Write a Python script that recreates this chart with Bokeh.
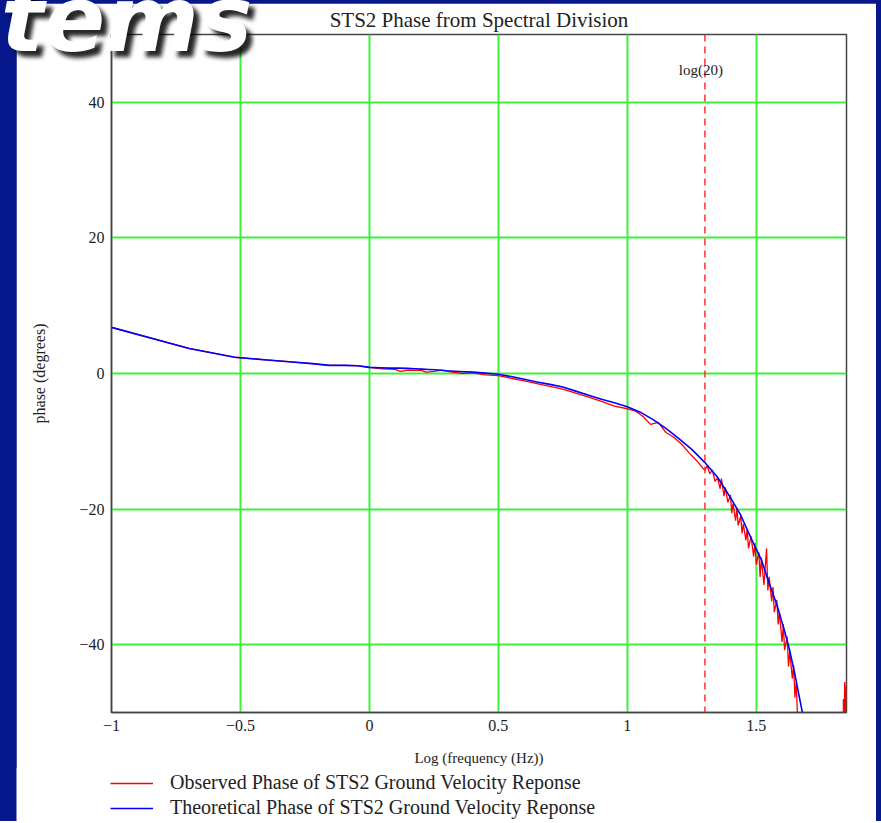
from bokeh.plotting import figure
from bokeh.layouts import column
from bokeh.models import Span, Label, Legend, LegendItem, FixedTicker, Range1d, Div
from bokeh.embed import file_html
from bokeh.resources import INLINE

title_text = "STS2 Phase from Spectral Division"
x_label = "Log (frequency (Hz))"
y_label = "phase (degrees)"
obs_name = "Observed Phase of STS2 Ground Velocity Reponse"
theo_name = "Theoretical Phase of STS2 Ground Velocity Reponse"
slide_word = "tems"

x_ticks = [-1, -0.5, 0, 0.5, 1, 1.5]
x_tick_labels = ["\u22121", "\u22120.5", "0", "0.5", "1", "1.5"]
y_ticks = [-40, -20, 0, 20, 40]
y_tick_labels = ["\u221240", "\u221220", "0", "20", "40"]
marker_x = 1.30103  # log(20)
marker_text = "log(20)"

theo_x = [-1.0, -0.699, -0.523, -0.398, -0.301, -0.222, -0.155, -0.097, -0.046, 0.0,
          0.041, 0.079, 0.114, 0.146, 0.176, 0.204, 0.23, 0.255, 0.30, 0.35, 0.40,
          0.45, 0.50, 0.55, 0.60, 0.65, 0.70, 0.75, 0.80, 0.85, 0.90, 0.95, 1.00,
          1.05, 1.10, 1.15, 1.20, 1.25, 1.30, 1.35, 1.40, 1.44, 1.48, 1.52, 1.55,
          1.58, 1.61, 1.63, 1.65, 1.68]
theo_y = [6.8, 3.7, 2.4, 2.0, 1.7, 1.45, 1.2, 1.2, 1.15, 0.9,
          0.85, 0.8, 0.8, 0.75, 0.7, 0.65, 0.6, 0.55, 0.4, 0.3, 0.2,
          0.05, -0.1, -0.45, -0.85, -1.25, -1.6, -2.0, -2.6, -3.2, -3.8, -4.3, -4.9,
          -5.7, -6.8, -8.1, -9.6, -11.2, -13.1, -15.3, -18.3, -20.9, -24.3, -27.5, -30.9,
          -34.1, -38.0, -40.9, -44.4, -50.2]

obs_x = [-1.0, -0.699, -0.523, -0.398, -0.301, -0.222, -0.155, -0.097, -0.046, 0.0,
         0.05, 0.1, 0.12, 0.15, 0.2, 0.22, 0.25, 0.28, 0.32, 0.36, 0.4, 0.45, 0.5,
         0.55, 0.6, 0.65, 0.7, 0.75, 0.8, 0.85, 0.9, 0.95, 1.0, 1.03, 1.06, 1.09,
         1.12, 1.15, 1.18, 1.21, 1.24, 1.27, 1.30,
         1.31, 1.32, 1.33, 1.34, 1.35, 1.36, 1.365, 1.375, 1.38, 1.39, 1.40, 1.405,
         1.41, 1.42, 1.425, 1.43, 1.44, 1.445, 1.45, 1.46, 1.465, 1.47, 1.48, 1.49,
         1.495, 1.50, 1.51, 1.515, 1.52, 1.53, 1.54, 1.545, 1.55, 1.56, 1.565, 1.57,
         1.58, 1.585, 1.59, 1.60, 1.605, 1.61, 1.62, 1.625, 1.63, 1.64, 1.645, 1.65,
         1.655, 1.66, 1.665, 1.70, 1.75, 1.80, 1.836, 1.838, 1.840, 1.843, 1.846, 1.849]
obs_y = [6.8, 3.7, 2.4, 2.0, 1.7, 1.45, 1.2, 1.2, 1.15, 0.9,
         0.7, 0.6, 0.3, 0.5, 0.45, 0.2, 0.3, 0.5, 0.2, 0.0, 0.1, -0.2, -0.3,
         -0.7, -1.1, -1.5, -1.9, -2.3, -2.9, -3.5, -4.1, -4.8, -5.2, -5.5, -6.3, -7.5,
         -7.2, -8.7, -9.4, -10.4, -11.7, -12.9, -14.3,
         -13.6, -14.8, -14.2, -15.9, -15.4, -17.0, -15.5, -18.1, -16.8, -19.0, -17.9, -20.6,
         -19.2, -21.7, -19.8, -22.4, -21.0, -23.6, -22.2, -24.6, -22.9, -25.8, -24.0, -27.0,
         -25.0, -28.2, -26.4, -30.0, -27.2, -31.2, -25.8, -32.0, -30.0, -33.6, -31.5, -35.2,
         -33.4, -37.0, -35.2, -39.6, -37.0, -40.8, -38.8, -43.2, -41.0, -45.0, -43.0, -47.8,
         -45.6, -50.5, -55.0, -58.0, -66.0, -74.0, -80.0, -48.0, -56.0, -45.5, -53.0, -46.0]

BG = "#06188c"
SERIF = "Liberation Serif"

p = figure(width=860, height=766, x_range=Range1d(-1, 1.85), y_range=Range1d(-50, 50),
           output_backend="svg", toolbar_location=None,
           min_border_left=95, min_border_right=30, min_border_top=28, min_border_bottom=57,
           border_fill_color="white", background_fill_color="white", title=title_text,
           margin=(4, 5, 0, 16))

p.title.text_font = SERIF
p.title.text_font_size = "21px"
p.title.text_font_style = "normal"
p.title.text_color = "#222222"
p.title.align = "center"
p.title.standoff = 5

for ax in (p.xaxis[0], p.yaxis[0]):
    ax.major_tick_in = 0
    ax.major_tick_out = 0
    ax.minor_tick_line_color = None
    ax.axis_line_color = "#444444"
    ax.axis_line_width = 1.5
    ax.major_label_text_font = SERIF
    ax.major_label_text_font_size = "16px"
    ax.major_label_text_color = "#222222"
    ax.axis_label_text_font = SERIF
    ax.axis_label_text_font_style = "normal"
    ax.axis_label_text_color = "#222222"
    ax.major_label_standoff = 7

p.xaxis.axis_label_text_font_size = "15px"
p.yaxis.axis_label_text_font_size = "16px"
p.xaxis.ticker = FixedTicker(ticks=x_ticks)
p.xaxis.major_label_overrides = {t: l for t, l in zip(x_ticks, x_tick_labels)}
p.yaxis.ticker = FixedTicker(ticks=y_ticks)
p.yaxis.major_label_overrides = {t: l for t, l in zip(y_ticks, y_tick_labels)}
p.xaxis.axis_label = x_label
p.yaxis.axis_label = y_label
p.xaxis.axis_label_standoff = 16
p.yaxis.axis_label_standoff = 28

p.xgrid.ticker = FixedTicker(ticks=x_ticks)
p.ygrid.ticker = FixedTicker(ticks=y_ticks)
for g in (p.xgrid[0], p.ygrid[0]):
    g.grid_line_color = "#3cf03c"
    g.grid_line_width = 2

p.outline_line_color = "#444444"
p.outline_line_width = 1.5

p.line(obs_x, obs_y, line_color="#ff0000", line_width=1.3)
p.line(theo_x, theo_y, line_color="#0000ff", line_width=1.6)

p.add_layout(Span(location=marker_x, dimension="height", line_color="#ff3030",
                  line_dash="7 5", line_width=1.5))
p.add_layout(Label(x=marker_x, y=44.8, text=marker_text, text_align="center",
                   text_baseline="middle", x_offset=-4, text_font=SERIF,
                   text_font_size="15px", text_color="#222222"))

# legend strip below the chart (its own small canvas; the series are out of its view)
p2 = figure(width=860, height=53, x_range=Range1d(100, 101), y_range=Range1d(100, 101),
            output_backend="svg", toolbar_location=None, x_axis_type=None, y_axis_type=None,
            min_border=0, border_fill_color="white", background_fill_color="white",
            outline_line_color=None, margin=(0, 5, 0, 16),
            styles={"margin-top": "-1px"})
p2.frame_align = False
p2.grid.visible = False
l_obs = p2.line(obs_x, obs_y, line_color="#ff0000", line_width=1.3)
l_theo = p2.line(theo_x, theo_y, line_color="#0000ff", line_width=1.6)
legend = Legend(items=[LegendItem(label=obs_name, renderers=[l_obs]),
                       LegendItem(label=theo_name, renderers=[l_theo])],
                location=(94, 2), orientation="vertical",
                padding=0, margin=0, spacing=2, glyph_width=43, glyph_height=20,
                label_height=20, label_standoff=17,
                label_text_font=SERIF, label_text_font_size="20px", label_text_color="#222222",
                border_line_color=None, background_fill_alpha=0)
p2.add_layout(legend)

word = Div(text=slide_word, width=300, height=1,
           styles={"position": "relative", "left": "-4px", "top": "-29px", "z-index": "10",
                   "margin-bottom": "-7px",
                   "overflow": "visible", "white-space": "nowrap", "pointer-events": "none",
                   "font-family": "DejaVu Sans", "font-size": "90px", "font-weight": "bold",
                   "font-style": "italic", "color": "white", "line-height": "88px",
                   "text-shadow": "6px 6px 4px rgba(0,0,0,0.85)"})

layout = column(word, p, p2, spacing=0, styles={"background-color": BG})

open("out.html", "w").write(file_html(layout, INLINE))
